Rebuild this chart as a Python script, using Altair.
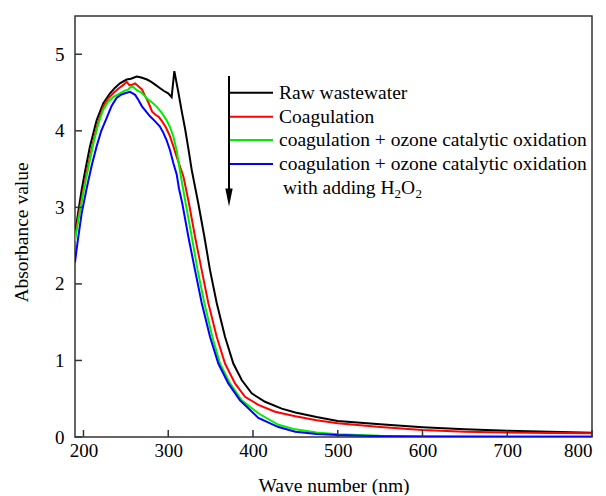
import altair as alt
import pandas as pd

# ---- data -------------------------------------------------------------------
raw_nm = [190, 193, 197.9, 202, 207.7, 215.6, 223.4, 231.3, 237, 243, 251, 256, 262.8,
          267, 270, 275, 280, 285, 290, 295, 300, 304, 307.2, 312, 316, 320, 324, 327.7,
          335.5, 342.6, 349.3, 357.2, 367, 376.8, 386.7, 398.5, 414.2, 433.9, 450, 475,
          500, 550, 600, 650, 700, 750, 800]
raw_a = [2.65, 2.88, 3.23, 3.48, 3.80, 4.14, 4.36, 4.49, 4.56, 4.62, 4.67, 4.68, 4.71,
         4.70, 4.69, 4.67, 4.64, 4.60, 4.56, 4.52, 4.49, 4.44, 4.78, 4.50, 4.25, 4.02, 3.75, 3.49,
         3.05, 2.62, 2.18, 1.75, 1.31, 0.96, 0.745, 0.57, 0.46, 0.37, 0.32, 0.26,
         0.21, 0.165, 0.127, 0.10, 0.083, 0.068, 0.056]

coag_nm = [190, 194, 199.8, 205, 211.6, 217, 223.4, 229, 235, 241, 247, 251, 254, 257, 261,
           265, 269, 273, 277, 281, 285, 289, 293, 297, 302, 306, 310, 318, 324.5, 331.6,
           339.5, 347.3, 357.2, 367, 378.8, 390.6, 406.3, 426, 450, 475, 500, 550, 600,
           650, 700, 750, 800]
coag_a = [2.60, 2.88, 3.23, 3.52, 3.86, 4.10, 4.32, 4.42, 4.49, 4.55, 4.60, 4.64, 4.60, 4.60, 4.62,
          4.58, 4.54, 4.45, 4.36, 4.25, 4.21, 4.18, 4.12, 4.05, 3.93, 3.80, 3.66, 3.40, 3.05, 2.62,
          2.18, 1.75, 1.31, 0.96, 0.70, 0.525, 0.42, 0.33, 0.27, 0.22, 0.18, 0.13, 0.09,
          0.07, 0.06, 0.053, 0.048]

ozone_nm = [190, 194, 200, 205, 211.6, 217, 223, 229, 235, 243, 248, 253, 256, 259, 263, 267,
            272, 276, 281, 286, 292, 298, 302, 306, 310, 315, 320.6, 327.7, 334.7, 342.6,
            352, 361.1, 372.9, 386.7, 406.3, 430, 450, 475, 500, 550, 600, 700, 800]
ozone_a = [2.56, 2.84, 3.20, 3.48, 3.83, 4.07, 4.27, 4.38, 4.44, 4.49, 4.52, 4.54, 4.58, 4.57,
           4.53, 4.51, 4.46, 4.41, 4.37, 4.32, 4.24, 4.14, 4.05, 3.93, 3.74, 3.40, 3.05, 2.62,
           2.18, 1.75, 1.31, 0.96, 0.70, 0.48, 0.31, 0.16, 0.10, 0.06, 0.035, 0.015, 0.008,
           0.005, 0.005]

h2o2_nm = [190, 192, 195, 198, 203.8, 210, 215.6, 221, 227.4, 233, 239, 244, 249, 252, 255,
           258, 261, 265, 269, 274, 278.5, 284, 290, 294, 298, 302, 306, 310, 312.6, 316.6,
           323.7, 331.6, 339.5, 349.3, 359.1, 370.9, 384.7, 406.3, 430, 450, 475, 500, 550,
           600, 700, 800]
h2o2_a = [2.28, 2.46, 2.70, 2.93, 3.25, 3.56, 3.80, 4.0, 4.17, 4.32, 4.43, 4.47, 4.49, 4.50, 4.51,
          4.49, 4.47, 4.40, 4.32, 4.25, 4.19, 4.13, 4.06, 3.98, 3.88, 3.75, 3.58, 3.43, 3.25, 3.05,
          2.62, 2.18, 1.75, 1.31, 0.96, 0.70, 0.48, 0.25, 0.13, 0.07, 0.04, 0.025, 0.01,
          0.005, 0.003, 0.003]

series_names = ["Raw wastewater", "Coagulation",
                "coagulation + ozone catalytic oxidation",
                "coagulation + ozone catalytic oxidation"]
series_colors = ["#000000", "#ff0000", "#00ee00", "#0000ff"]
second_line = ["with adding H", "2", "O", "2"]
x_ticks = [200, 300, 400, 500, 600, 700, 800]
y_ticks = [0, 1, 2, 3, 4, 5]

FONT = "Liberation Serif"
W, H = 517, 421

xs = alt.Scale(domain=[190, 800], nice=False, zero=False)
ys = alt.Scale(domain=[0, 5.5], nice=False)

x_axis = alt.Axis(values=x_ticks, title="Wave number (nm)", ticks=False, domain=False,
                  grid=False, labelFont=FONT, labelFontSize=19, labelColor="black",
                  labelPadding=4, labelFontWeight="normal",
                  titleFont=FONT, titleFontSize=19.5, titleColor="black", titleFontWeight="normal",
                  titleBaseline="alphabetic", titleY=54)
y_axis = alt.Axis(values=y_ticks, title="Absorbance value", ticks=False, domain=False,
                  grid=False, labelFont=FONT, labelFontSize=19, labelColor="black",
                  labelPadding=11, labelFontWeight="normal",
                  titleFont=FONT, titleFontSize=19.5, titleColor="black", titleFontWeight="normal",
                  titleBaseline="alphabetic", titleX=-48, titleY=216, titleAngle=270)

X = lambda f: alt.X(f, scale=xs, axis=x_axis)
Y = lambda f: alt.Y(f, scale=ys, axis=y_axis)

all_nm = [raw_nm, coag_nm, ozone_nm, h2o2_nm]
all_a = [raw_a, coag_a, ozone_a, h2o2_a]

one = pd.DataFrame({"a": [0]})
layers = []

# frame
layers.append(alt.Chart(one).mark_rect(fill=None, stroke="#333", strokeWidth=1.5).encode(
    x=alt.value(0), x2=alt.value(W), y=alt.value(0), y2=alt.value(H)))

for i, (nm, a) in enumerate(zip(all_nm, all_a)):
    df = pd.DataFrame({"nm": nm, "A": a})
    layers.append(
        alt.Chart(df).mark_line(color=series_colors[i], strokeWidth=2, clip=True)
        .encode(x=X("nm:Q"), y=Y("A:Q"))
    )

# inward tick marks
xt = pd.DataFrame({"nm": x_ticks})
yt = pd.DataFrame({"A": y_ticks})
layers.append(alt.Chart(xt).mark_rule(color="#333", strokeWidth=1.5).encode(
    x=X("nm:Q"), y=alt.value(H), y2=alt.value(H - 7)))
layers.append(alt.Chart(yt).mark_rule(color="#333", strokeWidth=1.5).encode(
    y=Y("A:Q"), x=alt.value(0), x2=alt.value(7)))

# legend (manual)
LFS = 19.5
leg_rows = [76.7, 100.7, 124, 148]
for name, col, ry in zip(series_names, series_colors, leg_rows):
    layers.append(alt.Chart(one).mark_rule(strokeWidth=2, color=col).encode(
        x=alt.value(154), x2=alt.value(198), y=alt.value(ry)))
    layers.append(alt.Chart(one).mark_text(font=FONT, fontSize=LFS, align="left",
                                           baseline="middle", color="black").encode(
        x=alt.value(204), y=alt.value(ry), text=alt.value(name)))

# second line of last legend entry with subscripts
part_x = [208, 319.5, 326, 340.5]
part_y = [172, 178, 172, 178]
part_fs = [LFS, 13, LFS, 13]
for t, px, py, fs in zip(second_line, part_x, part_y, part_fs):
    layers.append(alt.Chart(one).mark_text(font=FONT, fontSize=fs, align="left",
                                           baseline="middle", color="black").encode(
        x=alt.value(px), y=alt.value(py), text=alt.value(t)))

# arrow
layers.append(alt.Chart(one).mark_rule(color="black", strokeWidth=2).encode(
    x=alt.value(154), y=alt.value(60), y2=alt.value(176)))
layers.append(alt.Chart(one).mark_point(
    shape="M -0.41 -1 L 0.41 -1 L 0 1 Z", filled=True, color="black", opacity=1, size=324,
    strokeWidth=0).encode(x=alt.value(154), y=alt.value(181.5)))

chart = alt.layer(*layers).properties(
    width=W, height=H,
    autosize=alt.AutoSizeParams(type="none"),
    padding={"left": 67, "top": 8, "right": 6, "bottom": 58},
).configure_view(strokeWidth=0)

chart.save("out.html", embed_options={"renderer": "svg", "actions": False})
